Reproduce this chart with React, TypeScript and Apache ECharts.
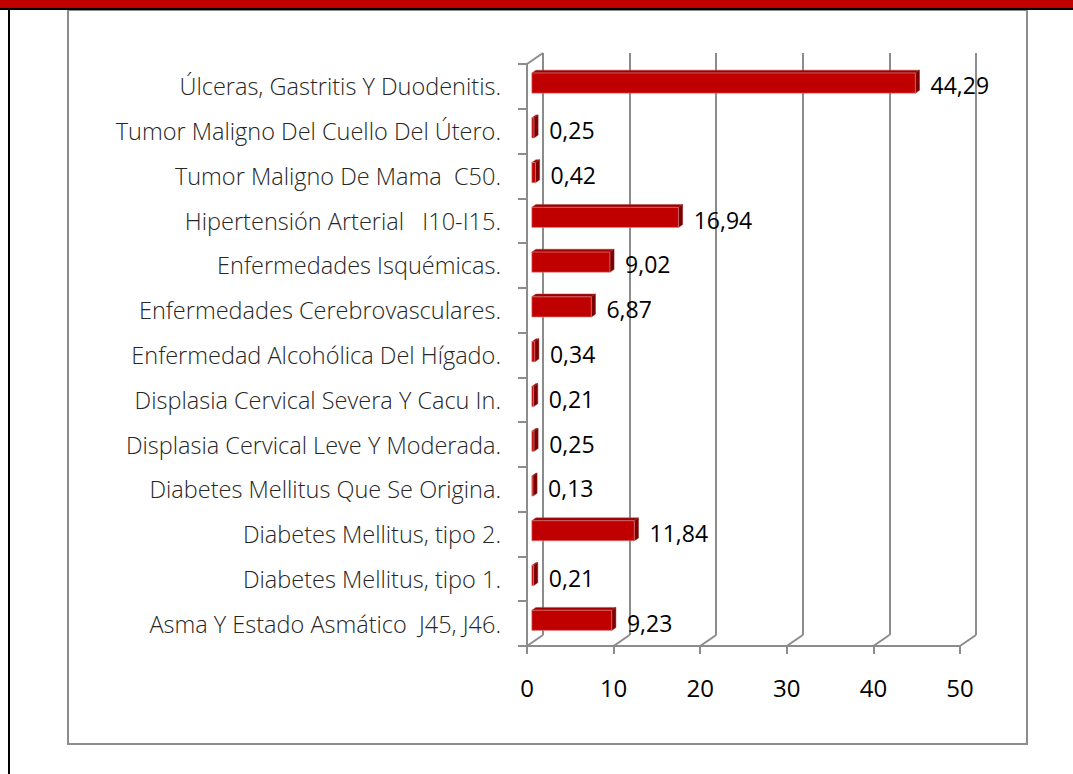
import React, { useEffect, useRef } from "react";
import * as echarts from "echarts";

const categories = [
  "Úlceras, Gastritis Y Duodenitis.",
  "Tumor Maligno Del Cuello Del Útero.",
  "Tumor Maligno De Mama  C50.",
  "Hipertensión Arterial   I10-I15.",
  "Enfermedades Isquémicas.",
  "Enfermedades Cerebrovasculares.",
  "Enfermedad Alcohólica Del Hígado.",
  "Displasia Cervical Severa Y Cacu In.",
  "Displasia Cervical Leve Y Moderada.",
  "Diabetes Mellitus Que Se Origina.",
  "Diabetes Mellitus, tipo 2.",
  "Diabetes Mellitus, tipo 1.",
  "Asma Y Estado Asmático  J45, J46.",
];
const values = [44.29, 0.25, 0.42, 16.94, 9.02, 6.87, 0.34, 0.21, 0.25, 0.13, 11.84, 0.21, 9.23];
const xTicks = [0, 10, 20, 30, 40, 50];

const DX = 16;
const DY = -11;
const GRID_COLOR = "#8c8c8c";

export default function App() {
  const ref = useRef<HTMLDivElement>(null);
  useEffect(() => {
    if (!ref.current) return;
    const chart = echarts.init(ref.current, null, { renderer: "svg" });
    const fmt = (v: number) => v.toFixed(2).replace(".", ",");
    const option: any = {
      animation: false,
      backgroundColor: "#ffffff",
      graphic: [
        { type: "rect", shape: { x: 0, y: 0, width: 1073, height: 8 }, style: { fill: "#C00000" }, z: 10 },
        { type: "rect", shape: { x: 0, y: 8, width: 1073, height: 2 }, style: { fill: "#000000" }, z: 10 },
        { type: "rect", shape: { x: 8, y: 8, width: 2, height: 766 }, style: { fill: "#000000" }, z: 10 },
        {
          type: "rect",
          shape: { x: 68, y: 10, width: 959, height: 734 },
          style: { fill: "none", stroke: GRID_COLOR, lineWidth: 2 },
          z: 0,
        },
      ],
      grid: [
        { left: 527, top: 64, width: 433, height: 582, containLabel: false },
        { left: 527 + DX, top: 64 + DY, width: 433, height: 582, containLabel: false },
      ],
      xAxis: [
        {
          gridIndex: 0,
          type: "value",
          min: 0,
          max: 50,
          interval: 10,
          axisLine: { show: true, lineStyle: { color: GRID_COLOR, width: 2 } },
          axisTick: { show: true, length: 8, lineStyle: { color: GRID_COLOR, width: 2 } },
          splitLine: { show: false },
          axisLabel: {
            margin: 29,
            fontFamily: "'Open Sans', sans-serif",
            fontSize: 24,
            color: "#000000",
          },
        },
        {
          gridIndex: 1,
          type: "value",
          min: 0,
          max: 50,
          interval: 10,
          axisLine: { show: false },
          axisTick: { show: false },
          axisLabel: { show: false },
          splitLine: { show: true, lineStyle: { color: GRID_COLOR, width: 2 } },
        },
      ],
      yAxis: [
        {
          gridIndex: 0,
          type: "category",
          inverse: true,
          data: categories,
          axisLine: { show: true, lineStyle: { color: GRID_COLOR, width: 2 } },
          axisTick: { show: true, length: 9, lineStyle: { color: GRID_COLOR, width: 2 } },
          axisLabel: {
            margin: 26,
            fontFamily: "'Open Sans', sans-serif",
            fontWeight: 300,
            fontSize: 23.5,
            color: "#262626",
          },
        },
        { gridIndex: 1, type: "value", show: false, min: 0, max: 1 },
      ],
      series: [
        {
          type: "custom",
          name: "walls",
          xAxisIndex: 0,
          yAxisIndex: 0,
          data: xTicks.map((v) => [v, 0]),
          encode: { x: 0, y: 1 },
          z: 1,
          silent: true,
          renderItem: (params: any, api: any) => {
            const v = api.value(0);
            const cs = params.coordSys;
            const p = api.coord([v, 0]);
            const yb = cs.y + cs.height;
            const children: any[] = [
              {
                type: "line",
                shape: { x1: p[0], y1: yb, x2: p[0] + DX, y2: yb + DY },
                style: { stroke: GRID_COLOR, lineWidth: 2 },
              },
            ];
            if (v === 0) {
              children.push({
                type: "line",
                shape: { x1: cs.x, y1: cs.y, x2: cs.x + DX, y2: cs.y + DY },
                style: { stroke: GRID_COLOR, lineWidth: 2 },
              });
            }
            return { type: "group", children };
          },
        },
        {
          type: "custom",
          name: "bars",
          xAxisIndex: 0,
          yAxisIndex: 0,
          data: values.map((v, i) => [v, i]),
          encode: { x: 0, y: 1 },
          z: 5,
          renderItem: (params: any, api: any) => {
            const v = api.value(0);
            const i = api.value(1);
            const p0 = api.coord([0, i]);
            const p1 = api.coord([v, i]);
            const band = api.size([0, 1])[1];
            const h = band * 0.45;
            const ox = DX * 0.3;
            const oy = DY * 0.3;
            const ddx = DX * 0.26;
            const ddy = DY * 0.26;
            const x0 = p0[0] + ox;
            const x1 = p1[0] + ox;
            const yT = p0[1] - h / 2 + oy;
            const yB = yT + h;
            return {
              type: "group",
              children: [
                {
                  type: "polygon",
                  shape: { points: [[x0, yT], [x1, yT], [x1 + ddx, yT + ddy], [x0 + ddx, yT + ddy]] },
                  style: { fill: "#9c0000", stroke: "#b84040", lineWidth: 0.5 },
                },
                {
                  type: "polygon",
                  shape: { points: [[x1, yT], [x1 + ddx, yT + ddy], [x1 + ddx, yB + ddy], [x1, yB]] },
                  style: { fill: "#7a0000", stroke: "#8a2020", lineWidth: 0.5 },
                },
                {
                  type: "rect",
                  shape: { x: x0, y: yT, width: Math.max(x1 - x0, 0.5), height: h },
                  style: { fill: "#C00000", stroke: "#e08a8a", lineWidth: 0.6 },
                },
                {
                  type: "text",
                  x: x1 + ddx + 11,
                  y: p0[1] - 1,
                  style: {
                    text: fmt(v),
                    fontFamily: "'Open Sans', sans-serif",
                    fontSize: 23,
                    fill: "#000000",
                    align: "left",
                    verticalAlign: "middle",
                  },
                },
              ],
            };
          },
        },
      ],
    };
    chart.setOption(option);
    return () => chart.dispose();
  }, []);
  return (
    <div
      ref={ref}
      style={{ position: "absolute", left: 0, top: 0, width: 1073, height: 774 }}
    />
  );
}
